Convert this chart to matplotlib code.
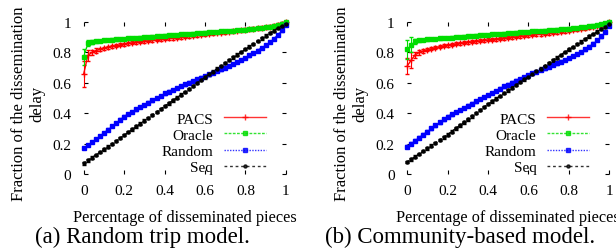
import matplotlib
matplotlib.use("Agg")
import matplotlib.pyplot as plt
from matplotlib.lines import Line2D
import numpy as np

plt.rcParams['font.family'] = ['Liberation Serif', 'DejaVu Serif']

# fraction of disseminated pieces (x axis), 51 samples
pieces = np.linspace(0, 1, 51)

# (a) random trip model
pacs_a = [0.66, 0.78, 0.80, 0.812, 0.82, 0.828, 0.834, 0.84, 0.845, 0.85,
          0.855, 0.859, 0.863, 0.867, 0.871, 0.874, 0.877, 0.88, 0.883, 0.886,
          0.889, 0.892, 0.895, 0.898, 0.901, 0.904, 0.907, 0.91, 0.913, 0.916,
          0.919, 0.922, 0.925, 0.928, 0.931, 0.934, 0.937, 0.94, 0.943, 0.946,
          0.949, 0.952, 0.955, 0.958, 0.962, 0.966, 0.97, 0.975, 0.981, 0.989, 1.0]
oracle_a = [0.77, 0.86, 0.868, 0.873, 0.876, 0.879, 0.882, 0.884, 0.886, 0.888,
            0.89, 0.892, 0.894, 0.896, 0.898, 0.9, 0.902, 0.904, 0.906, 0.908,
            0.91, 0.912, 0.914, 0.916, 0.918, 0.92, 0.922, 0.924, 0.926, 0.928,
            0.93, 0.932, 0.934, 0.936, 0.938, 0.94, 0.942, 0.944, 0.946, 0.948,
            0.95, 0.953, 0.956, 0.959, 0.962, 0.966, 0.97, 0.975, 0.981, 0.989, 1.0]
random_a = [0.17, 0.19, 0.21, 0.23, 0.25, 0.27, 0.293, 0.315, 0.337, 0.358,
            0.378, 0.395, 0.41, 0.425, 0.44, 0.455, 0.47, 0.485, 0.5, 0.515,
            0.53, 0.542, 0.554, 0.566, 0.578, 0.59, 0.601, 0.612, 0.623, 0.634,
            0.645, 0.656, 0.667, 0.678, 0.689, 0.70, 0.712, 0.724, 0.736, 0.75,
            0.765, 0.78, 0.796, 0.812, 0.83, 0.848, 0.868, 0.89, 0.915, 0.945, 0.98]
seq_a = [0.07, 0.09, 0.108, 0.126, 0.144, 0.162, 0.18, 0.199, 0.218, 0.237,
         0.256, 0.275, 0.294, 0.313, 0.332, 0.351, 0.37, 0.389, 0.408, 0.427,
         0.446, 0.465, 0.484, 0.503, 0.522, 0.541, 0.56, 0.579, 0.598, 0.617,
         0.636, 0.655, 0.674, 0.693, 0.712, 0.731, 0.749, 0.767, 0.785, 0.803,
         0.821, 0.839, 0.857, 0.875, 0.893, 0.91, 0.927, 0.944, 0.96, 0.975, 0.99]

# (b) community-based model
pacs_b = [0.71, 0.75, 0.785, 0.80, 0.81, 0.818, 0.825, 0.832, 0.838, 0.843,
          0.848, 0.852, 0.856, 0.86, 0.864, 0.867, 0.87, 0.873, 0.876, 0.879,
          0.882, 0.885, 0.888, 0.891, 0.894, 0.897, 0.9, 0.903, 0.906, 0.909,
          0.912, 0.915, 0.918, 0.921, 0.924, 0.927, 0.93, 0.933, 0.936, 0.94,
          0.944, 0.948, 0.952, 0.956, 0.96, 0.964, 0.969, 0.974, 0.98, 0.988, 1.0]
oracle_b = [0.82, 0.85, 0.873, 0.879, 0.883, 0.886, 0.888, 0.89, 0.892, 0.894,
            0.896, 0.898, 0.9, 0.902, 0.904, 0.906, 0.908, 0.91, 0.912, 0.914,
            0.916, 0.918, 0.92, 0.922, 0.924, 0.926, 0.928, 0.93, 0.932, 0.934,
            0.936, 0.938, 0.94, 0.942, 0.944, 0.946, 0.948, 0.95, 0.952, 0.954,
            0.956, 0.959, 0.962, 0.965, 0.968, 0.972, 0.976, 0.98, 0.985, 0.992, 1.0]
random_b = [0.18, 0.2, 0.22, 0.24, 0.26, 0.28, 0.3, 0.32, 0.34, 0.36,
            0.378, 0.393, 0.408, 0.422, 0.436, 0.45, 0.464, 0.478, 0.492, 0.506,
            0.52, 0.534, 0.548, 0.562, 0.576, 0.589, 0.602, 0.615, 0.627, 0.639,
            0.651, 0.662, 0.673, 0.684, 0.695, 0.706, 0.717, 0.728, 0.739, 0.75,
            0.762, 0.775, 0.789, 0.804, 0.82, 0.838, 0.858, 0.88, 0.905, 0.935, 0.975]
seq_b = [0.08, 0.097, 0.115, 0.133, 0.151, 0.169, 0.187, 0.205, 0.223, 0.241,
         0.26, 0.28, 0.3, 0.32, 0.34, 0.36, 0.38, 0.4, 0.42, 0.44,
         0.46, 0.478, 0.496, 0.514, 0.532, 0.55, 0.568, 0.586, 0.604, 0.622,
         0.64, 0.658, 0.676, 0.694, 0.712, 0.73, 0.748, 0.766, 0.784, 0.802,
         0.82, 0.837, 0.854, 0.871, 0.888, 0.905, 0.921, 0.937, 0.953, 0.968, 0.985]

# error bars (half widths)
pacs_err_a = [0.085, 0.035, 0.018, 0.015, 0.012] + [0.01] * 46
oracle_err_a = [0.05, 0.02, 0.012] + [0.008] * 48
pacs_err_b = [0.055, 0.05, 0.02, 0.015, 0.012] + [0.01] * 46
oracle_err_b = [0.06, 0.05, 0.015] + [0.008] * 48
other_err = [0.008] * 51

labels = ['PACS', 'Oracle', 'Random', 'Seq']
colors = ['#ff0000', '#00dd00', '#0000ff', '#000000']
styles = ['-', (0, (2, 1)), (0, (1, 1)), (0, (2, 2))]
markers = ['+', 's', 's', 'o']
msizes = [4.5, 2.8, 2.8, 2.2]

panels = [
    ([pacs_a, oracle_a, random_a, seq_a], [pacs_err_a, oracle_err_a, other_err, other_err],
     '(a) Random trip model.', 0.136, 0.232),
    ([pacs_b, oracle_b, random_b, seq_b], [pacs_err_b, oracle_err_b, other_err, other_err],
     '(b) Community-based model.', 0.661, 0.747),
]

fig = plt.figure(figsize=(6.16, 2.53), dpi=100)
ticks = [0, 0.2, 0.4, 0.6, 0.8, 1]
ticklabels = ['0', '0.2', '0.4', '0.6', '0.8', '1']

for series, errs, caption, left, capx in panels:
    ax = fig.add_axes([left, 0.308, 0.328, 0.601])
    handles = []
    for y, e, lab, c, ls, m, ms in zip(series, errs, labels, colors, styles, markers, msizes):
        ax.errorbar(pieces, y, yerr=e, color=c, ecolor=c, elinewidth=0.8, capsize=1.5,
                    linestyle=ls, linewidth=1.0, marker=m, markersize=ms,
                    markeredgewidth=1.0, clip_on=False)
        handles.append(Line2D([], [], color=c, linestyle=ls, linewidth=1.0, marker=m,
                              markersize=ms, markeredgewidth=1.0, alpha=0.8))
    ax.set_xlim(0, 1)
    ax.set_ylim(0, 1)
    for s in ax.spines.values():
        s.set_visible(False)
    ax.set_xticks(ticks)
    ax.set_xticklabels(ticklabels)
    ax.set_yticks(ticks)
    ax.set_yticklabels(ticklabels)
    ax.tick_params(direction='in', length=3, width=0.8, top=True, right=True,
                   labelsize=11)
    ax.tick_params(axis='x', pad=7)
    ax.tick_params(axis='y', pad=9)
    ax.set_xlabel('Percentage of disseminated pieces', fontsize=11.7, va='center')
    ax.xaxis.set_label_coords(0.5, -0.283)
    ax.set_ylabel('Fraction of the dissemination\ndelay', fontsize=12, linespacing=1.2)
    ax.yaxis.set_label_coords(-0.19, 0.47)
    ax.legend(handles, labels, loc='lower right', bbox_to_anchor=(0.90, 0.0),
              frameon=False, markerfirst=False, fontsize=11, handlelength=2.75,
              handletextpad=0.7, labelspacing=0.16, borderpad=0, borderaxespad=0,
              numpoints=1)
    fig.text(capx, 0.06, caption, fontsize=16.5, ha='center', va='center')

fig.savefig('out.png', dpi=100)
